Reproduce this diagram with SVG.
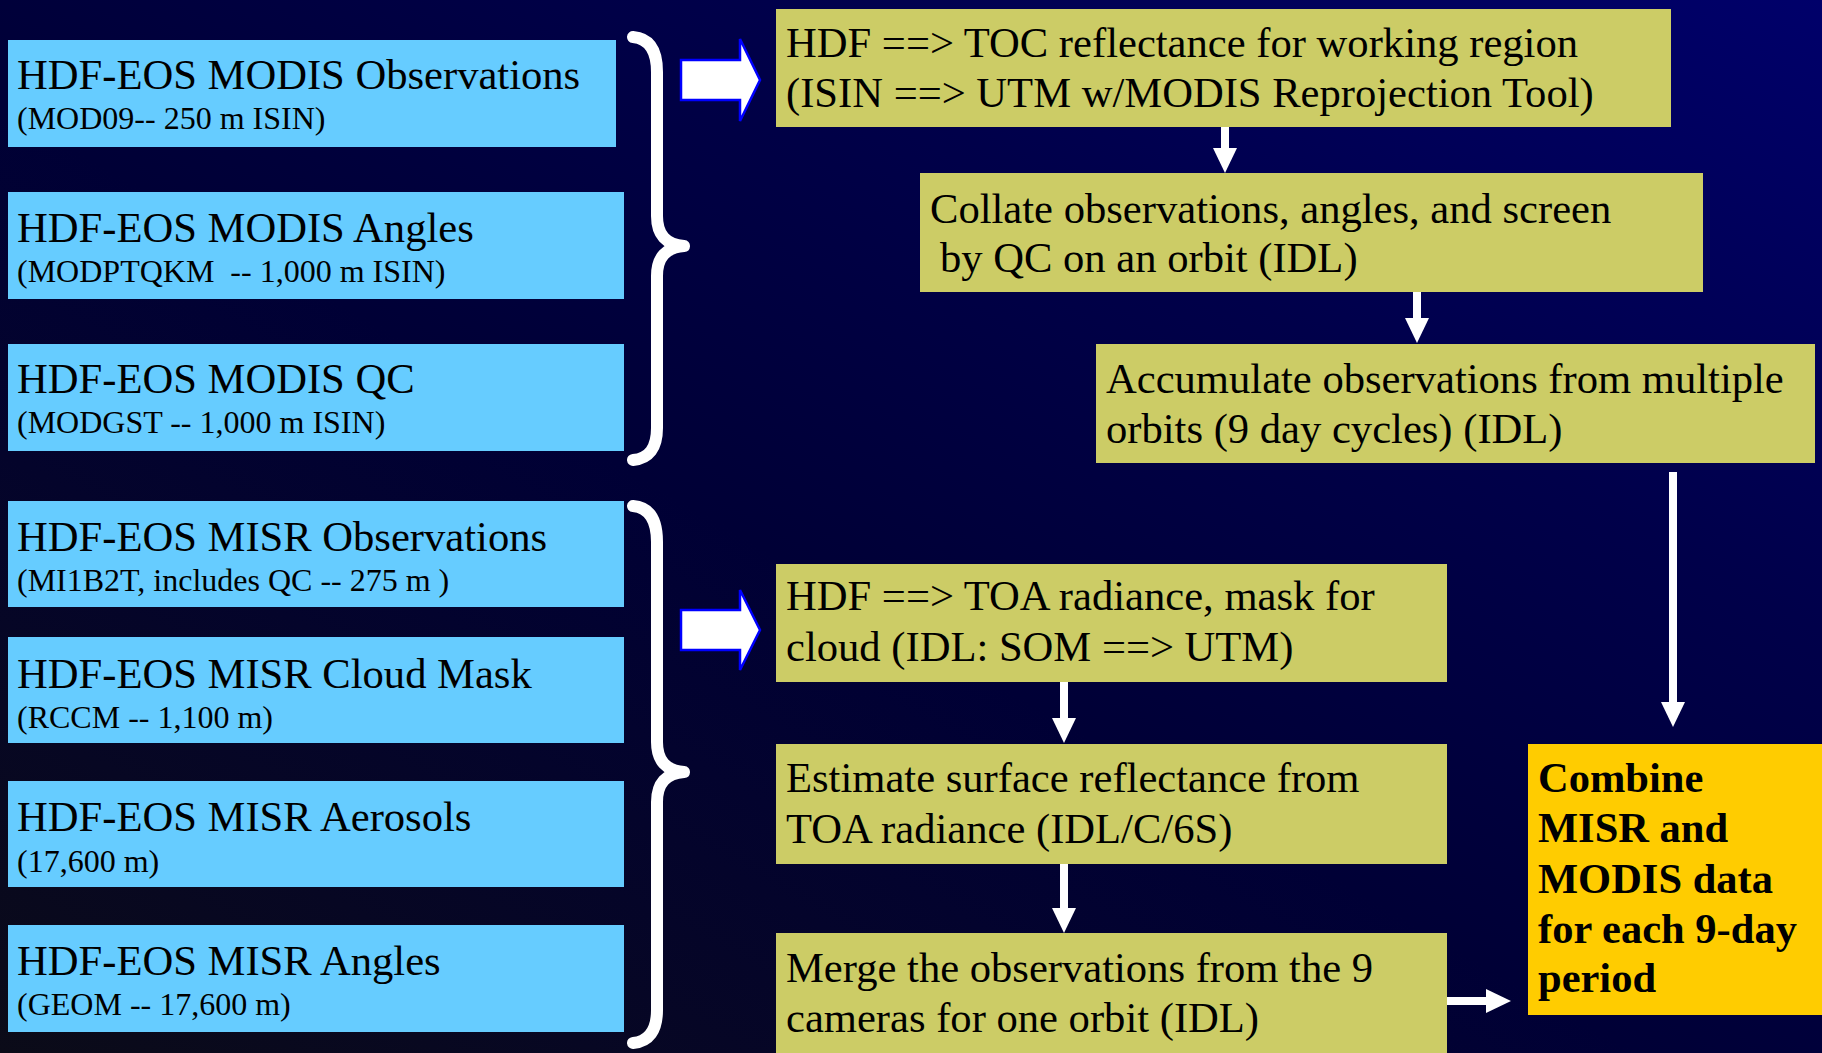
<svg xmlns="http://www.w3.org/2000/svg" width="1822" height="1053" viewBox="0 0 1822 1053">
  <defs>
    <linearGradient id="bg" x1="0" y1="1" x2="1" y2="0">
      <stop offset="0" stop-color="#0b0b18"/>
      <stop offset="0.45" stop-color="#000036"/>
      <stop offset="0.7" stop-color="#00004a"/>
      <stop offset="1" stop-color="#00006a"/>
    </linearGradient>
    <marker id="head" markerUnits="userSpaceOnUse" markerWidth="26" markerHeight="24" refX="0" refY="12" orient="auto">
      <path d="M0,0 L25,12 L0,24 Z" fill="#ffffff"/>
    </marker>
  </defs>
  <style>
    .src { fill: #66ccff; }
    .step { fill: #cccc66; }
    .final { fill: #ffcc00; }
    .h { font-family: "Liberation Serif", "Times New Roman", serif; font-size: 42.6px; fill: #000000; }
    .s { font-family: "Liberation Serif", "Times New Roman", serif; font-size: 32px; fill: #000000; white-space: pre; }
    .b { font-family: "Liberation Serif", "Times New Roman", serif; font-size: 42.5px; font-weight: bold; fill: #000000; }
    .brace { fill: none; stroke: #ffffff; stroke-width: 12; stroke-linecap: round; stroke-linejoin: round; }
    .block { fill: #ffffff; stroke: #0000ff; stroke-width: 2.5; }
    .conn { fill: none; stroke: #ffffff; stroke-width: 8; marker-end: url(#head); }
  </style>
  <rect x="0" y="0" width="1822" height="1053" fill="url(#bg)"/>

  <g id="modis-obs">
    <rect class="src" x="8" y="40" width="608" height="107"/>
    <text class="h" x="17" y="89">HDF-EOS MODIS Observations</text>
    <text class="s" x="17" y="129">(MOD09-- 250 m ISIN)</text>
  </g>
  <g id="modis-angles">
    <rect class="src" x="8" y="192" width="616" height="107"/>
    <text class="h" x="17" y="242">HDF-EOS MODIS Angles</text>
    <text class="s" x="17" y="282" xml:space="preserve">(MODPTQKM  -- 1,000 m ISIN)</text>
  </g>
  <g id="modis-qc">
    <rect class="src" x="8" y="344" width="616" height="107"/>
    <text class="h" x="17" y="393">HDF-EOS MODIS QC</text>
    <text class="s" x="17" y="433">(MODGST -- 1,000 m ISIN)</text>
  </g>
  <g id="misr-obs">
    <rect class="src" x="8" y="501" width="616" height="106"/>
    <text class="h" x="17" y="551">HDF-EOS MISR Observations</text>
    <text class="s" x="17" y="591">(MI1B2T, includes QC -- 275 m )</text>
  </g>
  <g id="misr-cloud">
    <rect class="src" x="8" y="637" width="616" height="106"/>
    <text class="h" x="17" y="688">HDF-EOS MISR Cloud Mask</text>
    <text class="s" x="17" y="728">(RCCM -- 1,100 m)</text>
  </g>
  <g id="misr-aerosols">
    <rect class="src" x="8" y="781" width="616" height="106"/>
    <text class="h" x="17" y="831">HDF-EOS MISR Aerosols</text>
    <text class="s" x="17" y="872">(17,600 m)</text>
  </g>
  <g id="misr-angles">
    <rect class="src" x="8" y="925" width="616" height="107"/>
    <text class="h" x="17" y="975">HDF-EOS MISR Angles</text>
    <text class="s" x="17" y="1015">(GEOM -- 17,600 m)</text>
  </g>

  <g id="brace-modis">
    <path class="brace" d="M633,37 Q657,39 657,72 L657,216 Q657,244 684,246 Q657,248 657,276 L657,428 Q657,458 633,460"/>
  </g>
  <g id="brace-misr">
    <path class="brace" d="M633,506 Q657,508 657,542 L657,742 Q657,770 684,772 Q657,774 657,802 L657,1010 Q657,1041 633,1043"/>
  </g>

  <g id="step-toc">
    <rect class="step" x="776" y="9" width="895" height="118"/>
    <text class="h" x="786" y="57">HDF ==&gt; TOC reflectance for working region</text>
    <text class="h" x="786" y="107">(ISIN ==&gt; UTM w/MODIS Reprojection Tool)</text>
  </g>
  <g id="step-collate">
    <rect class="step" x="920" y="173" width="783" height="119"/>
    <text class="h" x="930" y="223">Collate observations, angles, and screen</text>
    <text class="h" x="940" y="272">by QC on an orbit (IDL)</text>
  </g>
  <g id="step-accumulate">
    <rect class="step" x="1096" y="344" width="719" height="119"/>
    <text class="h" x="1106" y="393">Accumulate observations from multiple</text>
    <text class="h" x="1106" y="443">orbits (9 day cycles) (IDL)</text>
  </g>
  <g id="step-toa">
    <rect class="step" x="776" y="564" width="671" height="118"/>
    <text class="h" x="786" y="610">HDF ==&gt; TOA radiance, mask for</text>
    <text class="h" x="786" y="661">cloud (IDL: SOM ==&gt; UTM)</text>
  </g>
  <g id="step-surface">
    <rect class="step" x="776" y="744" width="671" height="120"/>
    <text class="h" x="786" y="792">Estimate surface reflectance from</text>
    <text class="h" x="786" y="843">TOA radiance (IDL/C/6S)</text>
  </g>
  <g id="step-merge">
    <rect class="step" x="776" y="933" width="671" height="130"/>
    <text class="h" x="786" y="982">Merge the observations from the 9</text>
    <text class="h" x="786" y="1032">cameras for one orbit (IDL)</text>
  </g>
  <g id="combine">
    <rect class="final" x="1528" y="744" width="300" height="271"/>
    <text class="b" x="1538" y="792">Combine</text>
    <text class="b" x="1538" y="842">MISR and</text>
    <text class="b" x="1538" y="893">MODIS data</text>
    <text class="b" x="1538" y="943">for each 9-day</text>
    <text class="b" x="1538" y="992">period</text>
  </g>

  <g id="connectors">
    <polygon class="block" points="681,60 740,60 740,39 760,80 740,121 740,100 681,100"/>
    <polygon class="block" points="681,610 740,610 740,590 760,630 740,670 740,650 681,650"/>
    <path class="conn" d="M1225,127 L1225,148"/>
    <path class="conn" d="M1417,292 L1417,318"/>
    <path class="conn" d="M1673,472 L1673,702"/>
    <path class="conn" d="M1064,682 L1064,718"/>
    <path class="conn" d="M1064,864 L1064,908"/>
    <path class="conn" d="M1447,1001 L1486,1001"/>
  </g>
</svg>
